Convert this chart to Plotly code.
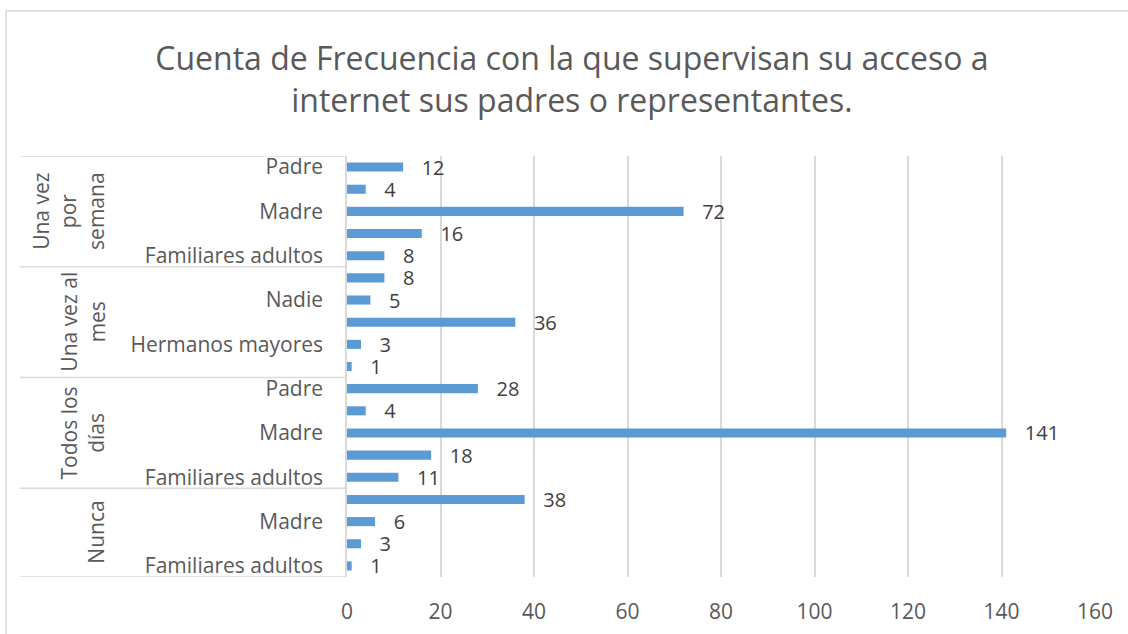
import plotly.graph_objects as go

# ── Datos (de abajo hacia arriba, como en el gráfico de Excel) ──────────────
grupos = ["Nunca", "Todos los días", "Una vez al mes", "Una vez por semana"]
grupos_texto = ["Nunca", "Todos los<br>días", "Una vez al<br>mes", "Una vez<br>por<br>semana"]

personas_nunca = ["Familiares adultos", "Hermanos mayores", "Madre", "Nadie"]
valores_nunca = [1, 3, 6, 38]

personas_todos = ["Familiares adultos", "Hermanos mayores", "Madre", "Nadie", "Padre"]
valores_todos = [11, 18, 141, 4, 28]

personas_mes = ["Familiares adultos", "Hermanos mayores", "Madre", "Nadie", "Padre"]
valores_mes = [1, 3, 36, 5, 8]

personas_semana = ["Familiares adultos", "Hermanos mayores", "Madre", "Nadie", "Padre"]
valores_semana = [8, 16, 72, 4, 12]

titulo = "Cuenta de Frecuencia con la que supervisan su acceso a<br>internet sus padres o representantes."
ticks_x = [0, 20, 40, 60, 80, 100, 120, 140, 160]

AZUL = "#5B9BD5"
GRIS_TEXTO = "#595959"
GRIS_LINEA = "#D9D9D9"
FUENTE = "Open Sans"
TAM = 21

# ── Construcción de categorías ──────────────────────────────────────────────
personas_por_grupo = [personas_nunca, personas_todos, personas_mes, personas_semana]
valores_por_grupo = [valores_nunca, valores_todos, valores_mes, valores_semana]

claves, etiquetas, valores = [], [], []
limites = [0]
for g, pers, vals in zip(grupos, personas_por_grupo, valores_por_grupo):
    for p, v in zip(pers, vals):
        claves.append(f"{g} | {p}")
        etiquetas.append(p)
        valores.append(v)
    limites.append(len(claves))

# Excel omite una de cada dos etiquetas cuando no caben
etiquetas_visibles = [e if i % 2 == 0 else "" for i, e in enumerate(etiquetas)]

# Geometría en píxeles de la figura
W, H = 1128, 634
L, R, T, B = 347, 33, 156, 57
ancho_plot = W - L - R
alto_plot = H - T - B


def px_a_paper_x(px):
    return (px - L) / ancho_plot


def px_a_paper_y(py):
    return (H - B - py) / alto_plot


fig = go.Figure(
    go.Bar(
        x=valores,
        y=claves,
        orientation="h",
        marker=dict(color=AZUL, line=dict(width=0)),
        texttemplate="\u00a0\u00a0\u00a0%{x}",
        textposition="outside",
        constraintext="none",
        textfont=dict(size=20, color="#404040", family=FUENTE),
        cliponaxis=False,
        hoverinfo="skip",
    )
)

# Separadores de grupos en el eje de categorías
formas = []
for lim in limites:
    formas.append(dict(
        type="line", xref="paper", yref="y",
        x0=px_a_paper_x(20), x1=0, y0=lim - 0.5, y1=lim - 0.5,
        line=dict(color=GRIS_LINEA, width=1.5),
    ))

# Borde del área del gráfico (solo se ven el lado izquierdo y el superior)
formas.append(dict(
    type="line", xref="paper", yref="paper", layer="below",
    x0=px_a_paper_x(6), x1=px_a_paper_x(W),
    y0=px_a_paper_y(11), y1=px_a_paper_y(11),
    line=dict(color=GRIS_LINEA, width=1.5),
))
formas.append(dict(
    type="line", xref="paper", yref="paper", layer="below",
    x0=px_a_paper_x(6), x1=px_a_paper_x(6),
    y0=px_a_paper_y(11), y1=px_a_paper_y(H),
    line=dict(color=GRIS_LINEA, width=1.5),
))

anotaciones = []
for texto, ini, fin in zip(grupos_texto, limites[:-1], limites[1:]):
    anotaciones.append(dict(
        text=texto, textangle=-90,
        xref="paper", yref="y",
        x=px_a_paper_x(112), y=(ini + fin - 1) / 2,
        xanchor="right", yanchor="middle",
        showarrow=False, align="center",
        font=dict(size=TAM, color=GRIS_TEXTO, family=FUENTE),
    ))

fig.update_layout(
    width=W, height=H,
    margin=dict(l=L, r=R, t=T, b=B, autoexpand=False),
    paper_bgcolor="white",
    plot_bgcolor="white",
    showlegend=False,
    bargap=0.59,
    font=dict(family=FUENTE, color=GRIS_TEXTO),
    title=dict(
        text=titulo,
        x=0.507, xref="container", xanchor="center",
        y=1 - 70 / H, yref="container", yanchor="middle",
        font=dict(size=32, color=GRIS_TEXTO, family=FUENTE),
    ),
    xaxis=dict(
        range=[0, 160],
        tickvals=ticks_x,
        showgrid=True, gridcolor=GRIS_LINEA, gridwidth=1.5,
        zeroline=False, showline=False,
        ticks="", ticklabelstandoff=20,
        tickfont=dict(size=TAM, color=GRIS_TEXTO, family=FUENTE),
    ),
    yaxis=dict(
        type="category",
        categoryorder="array", categoryarray=claves,
        tickvals=claves, ticktext=etiquetas_visibles,
        range=[-0.5, len(claves) - 0.5],
        showgrid=False, zeroline=False,
        showline=True, linecolor=GRIS_LINEA, linewidth=1.5,
        ticks="", ticklabelstandoff=18,
        tickfont=dict(size=TAM, color=GRIS_TEXTO, family=FUENTE),
    ),
    shapes=formas,
    annotations=anotaciones,
)

fig.write_html(
    "out.html",
    config={"displayModeBar": False},
    post_script="document.body.style.margin='0';document.body.style.overflow='hidden';",
)
